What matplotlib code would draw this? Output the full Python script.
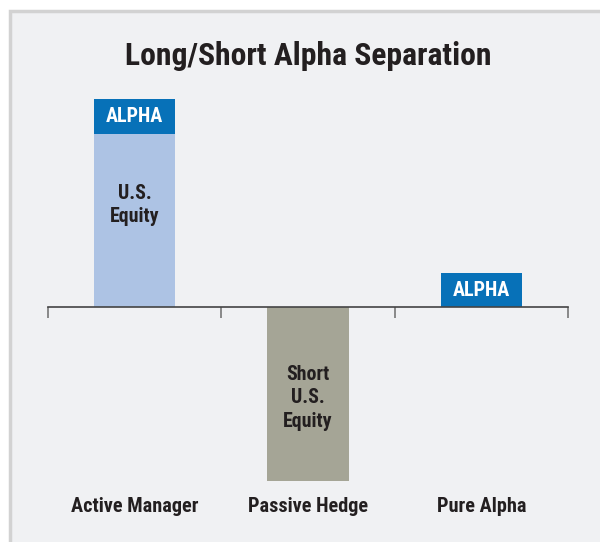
import matplotlib
matplotlib.use('Agg')
import matplotlib.pyplot as plt
from matplotlib import font_manager
from matplotlib.patches import Rectangle
from matplotlib.transforms import blended_transform_factory

# pick a narrow/condensed face if one is installed
names = {f.name for f in font_manager.fontManager.ttflist}
fam = [n for n in ['Roboto Condensed', 'Liberation Sans Narrow', 'DejaVu Sans'] if n in names]
plt.rcParams['font.family'] = fam + ['DejaVu Sans']
plt.rcParams['font.stretch'] = 'condensed'

# data
categories = ['Active Manager', 'Passive Hedge', 'Pure Alpha']
equity = [5, -5, 0]
alpha = [1, 0, 1]
equity_labels = ['U.S.\nEquity', 'Short\nU.S.\nEquity', '']
label_frac = [0.59, 0.52, 0.5]   # where in the bar the label sits

bg = '#f0f1f3'
light_blue = '#adc3e4'
dark_blue = '#0771b8'
gray = '#a5a596'
txt = '#231f20'

fig = plt.figure(figsize=(6, 5.42), dpi=100, facecolor='white')

# panel with border on top/left
panel = Rectangle((10 / 600, -0.1), 1.2, 1.1 - 11 / 542,
                  transform=fig.transFigure, facecolor=bg,
                  edgecolor='#d2d2d2', linewidth=2.5, zorder=-5)
fig.patches.append(panel)

ax = fig.add_axes([48 / 600, (542 - 481) / 542, 520 / 600, 382 / 542])
ax.set_facecolor('none')
ax.set_zorder(2)

x = range(len(categories))
width = 0.47
eq_colors = [light_blue, gray, light_blue]
ax.bar(x, equity, width=width, color=eq_colors, zorder=2)
ax.bar(x, alpha, width=width, bottom=[max(e, 0) for e in equity],
       color=dark_blue, zorder=2)

ax.set_xlim(-0.5, 2.5)
ax.set_ylim(-5, 6)

for s in ['top', 'right', 'left']:
    ax.spines[s].set_visible(False)
ax.spines['bottom'].set_position(('data', 0))
ax.spines['bottom'].set_color('#444444')
ax.spines['bottom'].set_linewidth(1.2)
ax.spines['bottom'].set_zorder(3)
ax.set_yticks([])
ax.set_xticks([-0.5, 0.5, 1.5, 2.5])
ax.set_xticklabels([])
ax.tick_params(axis='x', direction='out', length=8, width=1.2, color='#777777')

# bar labels
for i in x:
    if alpha[i]:
        base = max(equity[i], 0)
        ax.text(i, base + alpha[i] / 2, 'ALPHA', ha='center', va='center',
                color='white', fontsize=14.5, fontweight='bold', zorder=4)
    if equity_labels[i]:
        ax.text(i, equity[i] * label_frac[i], equity_labels[i], ha='center',
                va='center', color=txt, fontsize=14.3, fontweight='bold',
                linespacing=1.3, zorder=4)

trans = blended_transform_factory(ax.transData, ax.transAxes)
for i, c in enumerate(categories):
    ax.text(i, -0.066, c, transform=trans, ha='center', va='center',
            color=txt, fontsize=14.6, fontweight='bold')

fig.text(308 / 600, 1 - 56 / 542, 'Long/Short Alpha Separation', ha='center',
         va='center', color=txt, fontsize=22.8, fontweight='bold')

fig.savefig('out.png', dpi=100, facecolor='white')
